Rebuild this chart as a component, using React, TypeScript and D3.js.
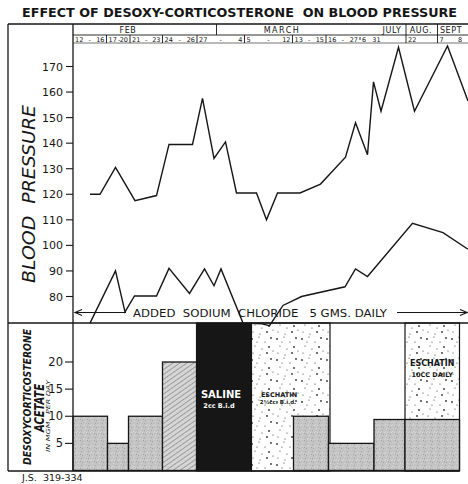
import * as d3 from "d3";
import React from "react";

// timeline units: 0 = left axis, 79 = right edge of the sheet
const monthLabels = ["FEB", "MARCH", "JULY", "AUG.", "SEPT"];
const monthCenters = [11, 41.8, 63.8, 69.6, 75.6];
const monthDividers = [28.7, 66.6, 72.9];

const dateEdges = [0, 6.7, 11.4, 17.9, 24.8, 34.3, 43.9, 50.6, 57.4, 66.6, 72.9, 77.3, 79];
const dateFrom = ["12", "17", "21", "24", "27", "5", "13", "16", "6   31", "22", "7", "8"];
const dateTo = ["16", "20", "23", "26", "4", "12", "15", "27", "", "", "", ""];

// blood pressure, systolic
const sysX = [3.4, 5.4, 8.5, 12.4, 16.7, 19.2, 23.9, 25.9, 28.2, 30.5, 32.7, 36.7, 38.7, 40.9, 45.4, 49.5, 54.5, 56.5, 58.9, 60.1, 61.6, 65.1, 68.3, 74.9, 79];
const sysY = [120, 120, 130.5, 117.5, 119.5, 139.5, 139.5, 157.5, 134, 140.5, 120.5, 120.5, 110, 120.5, 120.5, 124, 134.5, 148, 135.5, 164, 152.5, 177.5, 152.5, 178, 156.5];

// blood pressure, diastolic
const diaX = [3.4, 8.5, 10.4, 12.3, 16.7, 19.2, 23.3, 26.3, 28.2, 29.6, 34, 37.8, 39.3, 42, 45.7, 54.4, 56.5, 58.9, 67.9, 74, 79];
const diaY = [69.6, 90, 74, 80.2, 80.2, 91, 81.2, 90.8, 84.2, 90.8, 69.6, 69.3, 68.6, 76.5, 80, 83.8, 90.8, 87.8, 108.6, 105, 98.5];

const bpTicks = [80, 90, 100, 110, 120, 130, 140, 150, 160, 170];

// desoxycorticosterone dose bars
const doseStart = [0, 6.9, 11.1, 17.9, 44.1, 51.1, 60.2, 66.4];
const doseEnd = [6.9, 11.1, 17.9, 24.7, 51.1, 60.2, 66.4, 77.3];
const doseValue = [10, 5, 10, 20, 10, 5, 9.4, 9.4];
const doseHatched = [false, false, false, true, false, false, false, false];
const doseTicks = [5, 10, 15, 20];

// treatments
const treatStart = [24.7, 35.7, 66.4];
const treatEnd = [35.7, 51.4, 77.3];
const treatKind = ["saline", "eschatin", "eschatin"];
const treatName = ["SALINE", "ESCHATIN", "ESCHATIN"];
const treatDose = ["2cc B.i.d", "2½cc. B.i.d.", "10CC DAILY"];

const INK = "#161616";
const FONT = "'DejaVu Sans', 'Liberation Sans', sans-serif";

const stippleDots = [
  [2, 3], [9, 1], [15, 6], [21, 2], [5, 10], [12, 13], [19, 11], [3, 17], [10, 19], [17, 17], [23, 15], [7, 6],
];
const grainDots = [
  [1, 1], [4, 3], [2, 5], [5, 0], [0, 4], [3, 6], [6, 5],
];

export default function App() {
  const W = 468, H = 484;
  const headTop = 24, monthBottom = 35, dateBottom = 43;
  const splitY = 323, bottomY = 471, frameL = 8, axisX = 73;

  const x = d3.scaleLinear().domain([0, 79]).range([axisX, 468]);
  const bp = d3.scaleLinear().domain([80, 170]).range([296.5, 66.5]);
  const dose = d3.scaleLinear().domain([0, 20]).range([470.5, 362]);

  const line = d3.line<[number, number]>().x(d => x(d[0])).y(d => bp(d[1]));
  const sys = line(sysX.map((v, i) => [v, sysY[i]]));
  const dia = line(diaX.map((v, i) => [v, diaY[i]]));

  return (
    <svg width={W} height={H} style={{ position: "absolute", left: 0, top: 0, background: "#fff" }} fontFamily={FONT}>
      <defs>
        <pattern id="stipple" width="25" height="21" patternUnits="userSpaceOnUse">
          <rect width="25" height="21" fill="#fff" />
          {stippleDots.map((d, i) => <circle key={i} cx={d[0]} cy={d[1]} r={i % 3 === 0 ? 0.9 : 0.6} fill="#333" />)}
        </pattern>
        <pattern id="grain" width="7" height="7" patternUnits="userSpaceOnUse">
          <rect width="7" height="7" fill="#c4c4c4" />
          {grainDots.map((d, i) => <rect key={i} x={d[0]} y={d[1]} width="1" height="1" fill={i % 2 ? "#a4a4a4" : "#d6d6d6"} />)}
        </pattern>
        <pattern id="hatch" width="4" height="4" patternUnits="userSpaceOnUse" patternTransform="rotate(-35)">
          <rect width="4" height="4" fill="#d6d6d6" />
          <line x1="0" y1="0.5" x2="4" y2="0.5" stroke="#8d8d8d" strokeWidth="0.8" />
        </pattern>
      </defs>

      <text x={22} y={17} fontSize={13} fontWeight="bold" textLength={435} lengthAdjust="spacingAndGlyphs" fill={INK} style={{ whiteSpace: "pre" }}>
        EFFECT OF DESOXY-CORTICOSTERONE  ON BLOOD PRESSURE
      </text>

      {/* treatments */}
      {treatStart.map((s, i) => (
        <rect key={"t" + i} x={x(s)} y={splitY} width={x(treatEnd[i]) - x(s)} height={bottomY - splitY}
          fill={treatKind[i] === "saline" ? INK : "url(#stipple)"} stroke={INK} strokeWidth={1.2} />
      ))}

      {/* dose bars */}
      {doseStart.map((s, i) => (
        <rect key={"b" + i} x={x(s)} y={dose(doseValue[i])} width={x(doseEnd[i]) - x(s)} height={dose(0) - dose(doseValue[i])}
          fill={doseHatched[i] ? "url(#hatch)" : "url(#grain)"} stroke={INK} strokeWidth={1.3} />
      ))}

      <text x={221} y={398} textAnchor="middle" fontSize={10} fontWeight="bold" fill="#fff">{treatName[0]}</text>
      <text x={219} y={408} textAnchor="middle" fontSize={6.5} fontWeight="bold" fill="#fff">{treatDose[0]}</text>
      <text x={279} y={397} textAnchor="middle" fontSize={6.5} fontWeight="bold" fill={INK}>{treatName[1]}</text>
      <text x={278} y={404} textAnchor="middle" fontSize={5.5} fontWeight="bold" fill={INK}>{treatDose[1]}</text>
      <text x={x((treatStart[2] + treatEnd[2]) / 2)} y={366} textAnchor="middle" fontSize={8} fontWeight="bold" fill={INK}>{treatName[2]}</text>
      <text x={x((treatStart[2] + treatEnd[2]) / 2)} y={377} textAnchor="middle" fontSize={6.5} fontWeight="bold" fill={INK}>{treatDose[2]}</text>

      {/* frame */}
      <g stroke={INK} strokeWidth={1.3} fill="none">
        <line x1={frameL} y1={headTop} x2={468} y2={headTop} />
        <line x1={frameL} y1={headTop} x2={frameL} y2={bottomY} />
        <line x1={axisX} y1={headTop} x2={axisX} y2={bottomY} />
        <line x1={frameL} y1={bottomY} x2={x(77.3)} y2={bottomY} />
        <line x1={frameL} y1={splitY} x2={468} y2={splitY} />
        <line x1={axisX} y1={monthBottom} x2={468} y2={monthBottom} strokeWidth={0.9} />
        <line x1={axisX} y1={dateBottom} x2={468} y2={dateBottom} strokeWidth={0.6} />
        {monthDividers.map((m, i) => <line key={"md" + i} x1={x(m)} y1={headTop} x2={x(m)} y2={monthBottom} strokeWidth={0.9} />)}
        {dateEdges.slice(1, -2).map((e, i) => (
          <line key={"dd" + i} x1={x(e)} y1={e === 57.4 ? dateBottom - 6 : monthBottom} x2={x(e)} y2={e === 57.4 ? dateBottom - 3 : dateBottom} strokeWidth={0.9} />
        ))}
      </g>

      {monthLabels.map((m, i) => (
        <text key={"m" + i} x={x(monthCenters[i])} y={33} textAnchor="middle" fontSize={8} fill={INK} letterSpacing={m === "MARCH" ? 1.5 : 0.6}>{m}</text>
      ))}
      {dateFrom.map((d, i) => {
        const a = x(dateEdges[i]);
        const b = x(dateEdges[i + 1]);
        const to = dateTo[i];
        return (
          <g key={"d" + i} fontSize={6.5} fill={INK}>
            <text x={i === 11 ? 458 : a + 2} y={41.5} style={{ whiteSpace: "pre" }}>{d}</text>
            {to && <text x={(a + b) / 2 + (b - a < 30 ? 1 : 0)} y={41.5} textAnchor="middle">-</text>}
            {to && <text x={b - 2} y={41.5} textAnchor="end">{to}</text>}
          </g>
        );
      })}

      {/* blood pressure axis */}
      {bpTicks.map(t => (
        <g key={"bt" + t}>
          <line x1={66} y1={bp(t)} x2={axisX} y2={bp(t)} stroke={INK} strokeWidth={1.1} />
          <text x={63} y={bp(t) + 4} textAnchor="end" fontSize={11} fill={INK}>{t}</text>
        </g>
      ))}
      <text transform={`translate(35,194) rotate(-90)`} textAnchor="middle" fontSize={18} fontStyle="italic" fill={INK}
        textLength={178} lengthAdjust="spacingAndGlyphs" style={{ whiteSpace: "pre" }}>BLOOD  PRESSURE</text>

      {/* dose axis */}
      {doseTicks.map(t => (
        <g key={"dt" + t}>
          <line x1={65} y1={dose(t)} x2={axisX} y2={dose(t)} stroke={INK} strokeWidth={1.1} />
          <text x={63} y={dose(t) + 4} textAnchor="end" fontSize={11.5} fill={INK}>{t}</text>
        </g>
      ))}
      <text transform={`translate(30.5,397) rotate(-90)`} textAnchor="middle" fontSize={11} fontStyle="italic" fontWeight="bold" fill={INK}
        textLength={136} lengthAdjust="spacingAndGlyphs">DESOXYCORTICOSTERONE</text>
      <text transform={`translate(43.5,408) rotate(-90)`} textAnchor="middle" fontSize={14} fontStyle="italic" fontWeight="bold" fill={INK}
        textLength={48} lengthAdjust="spacingAndGlyphs">ACETATE</text>
      <text transform={`translate(49.5,416) rotate(-90)`} textAnchor="middle" fontSize={5.5} fontStyle="italic" fill={INK}
        textLength={72} lengthAdjust="spacingAndGlyphs" style={{ whiteSpace: "pre" }}>IN MGM.  PER DAY</text>

      {/* sodium chloride */}
      <g stroke={INK} strokeWidth={1.1} fill="none">
        <line x1={76} y1={312.5} x2={126} y2={312.5} />
        <path d="M82,309.5 L75,312.5 L82,315.5" />
        <line x1={397} y1={312.5} x2={466} y2={312.5} />
        <path d="M460,309.5 L467,312.5 L460,315.5" />
      </g>
      <text x={133} y={317} fontSize={10} fill={INK} textLength={254} lengthAdjust="spacingAndGlyphs" style={{ whiteSpace: "pre" }}>
        ADDED  SODIUM  CHLORIDE   5 GMS. DAILY
      </text>

      <path d={sys ?? ""} fill="none" stroke={INK} strokeWidth={1.4} strokeLinejoin="miter" />
      <path d={dia ?? ""} fill="none" stroke={INK} strokeWidth={1.4} strokeLinejoin="miter" />

      <text x={22} y={481} fontSize={9.5} fill={INK} style={{ whiteSpace: "pre" }}>J.S.  319-334</text>
    </svg>
  );
}
